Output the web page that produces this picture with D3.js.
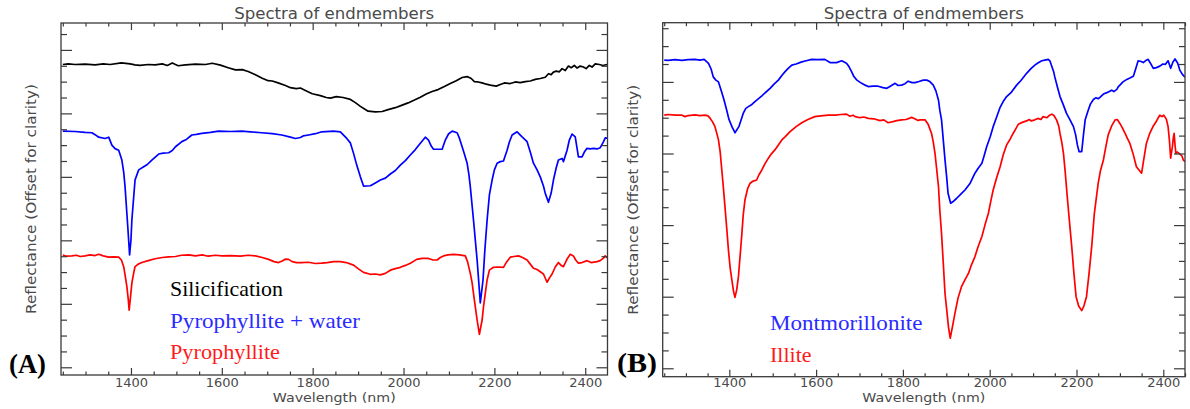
<!DOCTYPE html>
<html>
<head>
<meta charset="utf-8">
<script src="https://cdn.jsdelivr.net/npm/d3@7"></script>
<style>
  body { margin: 0; background: #fff; }
  svg { display: block; }
</style>
</head>
<body>
<svg id="chart" width="1190" height="409"></svg>
<script>
// ---- Spectra, [wavelength nm, reflectance offset for clarity] ----
const silicification = [
  [1250,0.954],[1262,0.956],[1277,0.954],[1299,0.955],[1321,0.953],[1339,0.956],[1354,0.954],
  [1379,0.959],[1398,0.956],[1409,0.953],[1420,0.951],[1438,0.954],[1453,0.953],[1469,0.956],
  [1480,0.951],[1491,0.959],[1498,0.954],[1504,0.950],[1520,0.953],[1542,0.955],[1564,0.954],
  [1579,0.958],[1597,0.952],[1614,0.944],[1630,0.937],[1645,0.938],[1658,0.932],[1674,0.922],
  [1689,0.911],[1702,0.903],[1711,0.902],[1724,0.896],[1740,0.888],[1751,0.881],[1764,0.878],
  [1773,0.880],[1784,0.872],[1799,0.862],[1817,0.856],[1830,0.850],[1839,0.848],[1852,0.853],
  [1867,0.850],[1883,0.844],[1894,0.834],[1905,0.822],[1916,0.812],[1922,0.807],[1938,0.805],
  [1953,0.806],[1966,0.812],[1982,0.818],[1997,0.826],[2010,0.833],[2024,0.842],[2037,0.851],
  [2050,0.861],[2063,0.869],[2076,0.875],[2090,0.885],[2103,0.894],[2116,0.903],[2129,0.913],
  [2140,0.916],[2149,0.910],[2156,0.900],[2164,0.899],[2173,0.896],[2182,0.892],[2191,0.889],
  [2204,0.886],[2213,0.891],[2222,0.896],[2235,0.894],[2246,0.899],[2257,0.897],[2268,0.900],
  [2279,0.902],[2290,0.907],[2301,0.910],[2312,0.914],[2319,0.925],[2325,0.922],[2330,0.930],
  [2336,0.933],[2343,0.931],[2349,0.941],[2356,0.935],[2363,0.949],[2369,0.944],[2376,0.951],
  [2382,0.943],[2389,0.949],[2396,0.946],[2402,0.941],[2409,0.951],[2415,0.946],[2422,0.956],
  [2431,0.954],[2439,0.951],[2448,0.954]
];

const pyrophylliteWater = [
  [1250,0.744],[1277,0.743],[1299,0.740],[1314,0.739],[1321,0.733],[1329,0.725],[1343,0.721],
  [1351,0.725],[1358,0.700],[1365,0.689],[1373,0.684],[1380,0.653],[1384,0.615],[1387,0.569],
  [1393,0.443],[1397,0.354],[1400,0.401],[1402,0.464],[1409,0.590],[1417,0.622],[1428,0.632],
  [1436,0.639],[1446,0.653],[1461,0.672],[1471,0.675],[1483,0.676],[1491,0.683],[1498,0.695],
  [1512,0.711],[1522,0.718],[1534,0.732],[1544,0.734],[1556,0.737],[1575,0.740],[1593,0.744],
  [1619,0.743],[1644,0.744],[1663,0.742],[1688,0.739],[1711,0.736],[1732,0.732],[1751,0.725],
  [1762,0.721],[1773,0.724],[1779,0.729],[1791,0.732],[1806,0.736],[1820,0.742],[1846,0.744],
  [1861,0.742],[1875,0.721],[1883,0.707],[1890,0.674],[1897,0.637],[1905,0.600],[1912,0.571],
  [1927,0.572],[1938,0.581],[1949,0.590],[1960,0.596],[1971,0.609],[1982,0.620],[1993,0.637],
  [2004,0.651],[2015,0.669],[2026,0.686],[2037,0.706],[2048,0.725],[2055,0.716],[2061,0.697],
  [2066,0.687],[2085,0.687],[2092,0.716],[2099,0.735],[2107,0.744],[2118,0.739],[2123,0.722],
  [2129,0.695],[2134,0.672],[2140,0.643],[2144,0.606],[2147,0.569],[2154,0.464],[2162,0.338],
  [2169,0.203],[2175,0.275],[2179,0.369],[2184,0.464],[2189,0.543],[2195,0.590],[2200,0.622],
  [2206,0.643],[2213,0.648],[2220,0.650],[2228,0.684],[2233,0.710],[2239,0.732],[2250,0.742],
  [2261,0.726],[2272,0.711],[2279,0.678],[2286,0.643],[2294,0.622],[2301,0.600],[2308,0.571],
  [2312,0.548],[2319,0.520],[2325,0.549],[2330,0.590],[2336,0.628],[2341,0.653],[2349,0.658],
  [2352,0.648],[2360,0.684],[2365,0.716],[2371,0.735],[2378,0.726],[2385,0.663],[2393,0.663],
  [2398,0.678],[2404,0.690],[2411,0.688],[2418,0.690],[2426,0.688],[2433,0.692],[2440,0.710],
  [2444,0.723],[2450,0.721]
];

const pyrophyllite = [
  [1250,0.354],[1258,0.350],[1270,0.351],[1280,0.353],[1288,0.349],[1299,0.351],[1310,0.354],
  [1321,0.352],[1329,0.356],[1339,0.351],[1351,0.347],[1361,0.348],[1373,0.347],[1379,0.338],
  [1384,0.317],[1387,0.291],[1391,0.254],[1394,0.215],[1396,0.180],[1399,0.221],[1402,0.265],
  [1406,0.297],[1409,0.317],[1416,0.325],[1424,0.330],[1438,0.336],[1453,0.342],[1469,0.346],
  [1483,0.348],[1498,0.349],[1511,0.353],[1527,0.354],[1542,0.351],[1557,0.354],[1570,0.350],
  [1586,0.353],[1600,0.351],[1619,0.352],[1641,0.350],[1658,0.353],[1674,0.351],[1689,0.346],
  [1703,0.340],[1715,0.333],[1725,0.330],[1733,0.335],[1740,0.341],[1747,0.340],[1755,0.333],
  [1764,0.330],[1776,0.330],[1790,0.331],[1806,0.327],[1820,0.328],[1832,0.330],[1846,0.333],
  [1861,0.333],[1874,0.330],[1890,0.322],[1900,0.311],[1912,0.299],[1927,0.293],[1938,0.294],
  [1949,0.291],[1960,0.296],[1971,0.306],[1982,0.311],[1993,0.315],[2004,0.321],[2015,0.328],
  [2029,0.340],[2041,0.343],[2055,0.343],[2065,0.338],[2074,0.338],[2081,0.346],[2088,0.351],
  [2098,0.354],[2110,0.356],[2123,0.354],[2136,0.351],[2141,0.332],[2147,0.296],[2151,0.266],
  [2154,0.233],[2158,0.190],[2162,0.149],[2167,0.104],[2173,0.149],[2176,0.190],[2180,0.233],
  [2184,0.275],[2189,0.306],[2198,0.315],[2208,0.316],[2220,0.315],[2227,0.332],[2235,0.347],
  [2243,0.349],[2253,0.351],[2262,0.346],[2272,0.338],[2279,0.325],[2286,0.312],[2294,0.308],
  [2301,0.301],[2308,0.294],[2316,0.268],[2321,0.281],[2327,0.294],[2334,0.316],[2341,0.330],
  [2347,0.321],[2352,0.317],[2360,0.341],[2367,0.356],[2374,0.351],[2379,0.338],[2385,0.328],
  [2393,0.330],[2404,0.336],[2413,0.330],[2426,0.333],[2433,0.336],[2440,0.344],[2444,0.351],
  [2450,0.343]
];

const montmorillonite = [
  [1250,0.861],[1259,0.860],[1275,0.862],[1291,0.860],[1305,0.862],[1321,0.863],[1332,0.861],
  [1342,0.863],[1352,0.852],[1358,0.836],[1363,0.814],[1369,0.805],[1375,0.800],[1382,0.773],
  [1388,0.749],[1394,0.721],[1399,0.696],[1406,0.675],[1413,0.658],[1422,0.675],[1432,0.712],
  [1438,0.726],[1444,0.731],[1452,0.737],[1459,0.745],[1466,0.752],[1475,0.761],[1482,0.769],
  [1494,0.782],[1503,0.794],[1513,0.805],[1521,0.818],[1528,0.828],[1535,0.837],[1544,0.847],
  [1554,0.850],[1567,0.856],[1577,0.859],[1590,0.863],[1604,0.862],[1620,0.863],[1632,0.854],
  [1647,0.854],[1659,0.859],[1670,0.852],[1676,0.842],[1682,0.828],[1687,0.815],[1694,0.805],
  [1705,0.796],[1713,0.791],[1720,0.787],[1731,0.788],[1743,0.788],[1754,0.784],[1763,0.782],
  [1770,0.787],[1782,0.796],[1789,0.790],[1797,0.791],[1805,0.795],[1812,0.802],[1821,0.798],
  [1828,0.798],[1837,0.801],[1847,0.805],[1855,0.805],[1862,0.801],[1870,0.791],[1876,0.775],
  [1882,0.749],[1885,0.721],[1889,0.694],[1893,0.638],[1897,0.582],[1901,0.532],[1904,0.489],
  [1910,0.461],[1915,0.465],[1924,0.475],[1934,0.487],[1943,0.498],[1955,0.517],[1966,0.545],
  [1973,0.558],[1982,0.573],[1987,0.593],[1993,0.619],[2001,0.646],[2008,0.675],[2016,0.702],
  [2024,0.729],[2031,0.745],[2039,0.759],[2049,0.770],[2062,0.791],[2072,0.804],[2085,0.824],
  [2095,0.837],[2104,0.847],[2111,0.853],[2120,0.859],[2127,0.861],[2135,0.863],[2139,0.858],
  [2142,0.847],[2147,0.830],[2150,0.814],[2156,0.786],[2162,0.759],[2169,0.738],[2177,0.712],
  [2185,0.694],[2193,0.675],[2198,0.652],[2202,0.624],[2206,0.605],[2212,0.605],[2216,0.652],
  [2220,0.694],[2227,0.721],[2232,0.738],[2239,0.751],[2245,0.756],[2250,0.753],[2254,0.757],
  [2262,0.766],[2270,0.770],[2281,0.777],[2286,0.773],[2293,0.779],[2296,0.786],[2300,0.791],
  [2307,0.800],[2316,0.807],[2323,0.811],[2331,0.816],[2337,0.839],[2342,0.859],[2349,0.857],
  [2354,0.854],[2360,0.860],[2365,0.863],[2370,0.853],[2377,0.838],[2384,0.840],[2392,0.844],
  [2399,0.850],[2405,0.849],[2411,0.859],[2417,0.838],[2422,0.855],[2427,0.864],[2433,0.853],
  [2438,0.833],[2444,0.821],[2450,0.813]
];

const illite = [
  [1250,0.707],[1259,0.709],[1275,0.707],[1291,0.707],[1298,0.703],[1305,0.706],[1321,0.708],
  [1332,0.706],[1344,0.707],[1351,0.705],[1356,0.698],[1361,0.689],[1367,0.675],[1371,0.657],
  [1375,0.638],[1379,0.604],[1382,0.563],[1386,0.509],[1390,0.451],[1394,0.392],[1398,0.330],
  [1402,0.280],[1407,0.237],[1410,0.213],[1413,0.198],[1417,0.219],[1421,0.256],[1425,0.316],
  [1429,0.377],[1432,0.428],[1436,0.470],[1442,0.501],[1448,0.517],[1455,0.523],[1463,0.526],
  [1468,0.540],[1475,0.554],[1482,0.571],[1490,0.587],[1497,0.599],[1505,0.610],[1513,0.624],
  [1521,0.638],[1529,0.647],[1540,0.661],[1554,0.675],[1567,0.686],[1581,0.695],[1597,0.703],
  [1611,0.705],[1628,0.707],[1644,0.707],[1657,0.709],[1670,0.710],[1678,0.704],[1685,0.707],
  [1690,0.703],[1701,0.700],[1710,0.702],[1720,0.698],[1733,0.697],[1747,0.692],[1756,0.694],
  [1766,0.686],[1777,0.689],[1786,0.692],[1797,0.694],[1807,0.695],[1814,0.698],[1820,0.701],
  [1826,0.698],[1835,0.692],[1839,0.694],[1851,0.694],[1858,0.682],[1866,0.656],[1870,0.632],
  [1874,0.600],[1878,0.554],[1882,0.507],[1885,0.442],[1889,0.377],[1893,0.294],[1897,0.209],
  [1901,0.163],[1905,0.115],[1909,0.084],[1914,0.115],[1920,0.154],[1927,0.196],[1935,0.228],
  [1943,0.247],[1951,0.265],[1958,0.289],[1966,0.312],[1973,0.339],[1982,0.368],[1989,0.400],
  [1997,0.433],[2003,0.470],[2008,0.498],[2016,0.532],[2024,0.563],[2031,0.596],[2039,0.624],
  [2047,0.640],[2054,0.656],[2061,0.671],[2066,0.682],[2075,0.687],[2085,0.691],[2091,0.695],
  [2096,0.691],[2104,0.694],[2111,0.698],[2118,0.695],[2123,0.703],[2132,0.700],[2137,0.706],
  [2143,0.710],[2148,0.706],[2154,0.694],[2159,0.677],[2162,0.656],[2166,0.632],[2170,0.600],
  [2174,0.548],[2178,0.489],[2183,0.420],[2189,0.340],[2194,0.266],[2199,0.200],[2205,0.174],
  [2212,0.161],[2217,0.174],[2223,0.200],[2229,0.266],[2235,0.340],[2241,0.431],[2250,0.517],
  [2255,0.551],[2262,0.582],[2267,0.615],[2273,0.652],[2281,0.677],[2289,0.694],[2294,0.695],
  [2300,0.684],[2306,0.671],[2312,0.656],[2317,0.643],[2323,0.628],[2330,0.601],[2338,0.563],
  [2344,0.554],[2350,0.545],[2354,0.576],[2361,0.628],[2369,0.657],[2377,0.677],[2383,0.688],
  [2388,0.699],[2392,0.707],[2397,0.703],[2401,0.707],[2407,0.696],[2411,0.675],[2414,0.638],
  [2417,0.587],[2419,0.604],[2421,0.619],[2423,0.643],[2425,0.656],[2427,0.624],[2429,0.600],
  [2432,0.604],[2438,0.599],[2443,0.593],[2446,0.582],[2450,0.577]
];

// ---- Axis ticks ----
const wavelengthTicks = [1400, 1600, 1800, 2000, 2200, 2400];
const wavelengthMinorStep = 50;
const reflectanceStep = 0.05;

const titleText = "Spectra of endmembers";
const xLabelText = "Wavelength (nm)";
const yLabelText = "Reflectance (Offset for clarity)";

// ---- Legend entries per panel ----
const legendA = ["Silicification", "Pyrophyllite + water", "Pyrophyllite"];
const legendB = ["Montmorillonite", "Illite"];

// ---- Panel layout ----
const panels = [
  {
    tag: "(A)", tagX: 9, tagY: 373, tagW: 37,
    left: 61, right: 607.5, top: 23, bottom: 375,
    xDomain: [1246, 2449], yDomain: [-0.0243, 1.0848], yTickMax: 1.05,
    series: [silicification, pyrophylliteWater, pyrophyllite],
    colors: ["#000000", "#0000ff", "#ff0000"],
    legend: legendA, legendColors: ["#000000", "#2b2bff", "#ff1a1a"],
    legendX: 170, legendY: [296, 327.5, 359], legendW: [113, 190, 110],
    yLabelX: 36
  },
  {
    tag: "(B)", tagX: 617, tagY: 372, tagW: 40,
    left: 662.7, right: 1185, top: 22.7, bottom: 376.7,
    xDomain: [1246.5, 2450], yDomain: [-0.0235, 0.9654], yTickMax: 0.95,
    series: [montmorillonite, illite],
    colors: ["#0000ff", "#ff0000"],
    legend: legendB, legendColors: ["#2b2bff", "#ff1a1a"],
    legendX: 770, legendY: [329.5, 361.5], legendW: [152.5, 41.5],
    yLabelX: 637.5
  }
];

const axisColor = "#3a3a3a";
const textColor = "#4a4a4a";
const tickFont = 13;
const tickBaseline = 386.5;
const svg = d3.select("#chart");

panels.forEach((p, i) => {
  const g = svg.append("g");
  const x = d3.scaleLinear().domain(p.xDomain).range([p.left, p.right]);
  const y = d3.scaleLinear().domain(p.yDomain).range([p.bottom, p.top]);

  const minorX = d3.range(1250, 2451, wavelengthMinorStep)
    .filter(v => !wavelengthTicks.includes(v) && v >= p.xDomain[0] && v <= p.xDomain[1]);
  const yAll = d3.range(0, p.yTickMax + 1e-6, reflectanceStep).map(v => +v.toFixed(2));
  const yMajor = yAll.filter((v, k) => k % 4 === 0);
  const yMinor = yAll.filter((v, k) => k % 4 !== 0);

  const clipId = "clip" + i;
  g.append("clipPath").attr("id", clipId)
    .append("rect").attr("x", p.left).attr("y", p.top)
    .attr("width", p.right - p.left).attr("height", p.bottom - p.top);

  // spectra
  const line = d3.line().x(d => x(d[0])).y(d => y(d[1]));
  const lines = g.append("g").attr("clip-path", `url(#${clipId})`);
  p.series.forEach((s, k) => {
    lines.append("path").datum(s).attr("d", line)
      .attr("fill", "none").attr("stroke", p.colors[k])
      .attr("stroke-width", 1.7).attr("stroke-linejoin", "round");
  });

  // axes with inward ticks on all four sides
  const pad = tickBaseline - p.bottom - 0.71 * tickFont;
  const axes = [
    g.append("g").attr("transform", `translate(0,${p.bottom})`)
      .call(d3.axisBottom(x).tickValues(wavelengthTicks).tickSizeInner(-7).tickSizeOuter(0)
        .tickPadding(pad).tickFormat(d3.format("d"))),
    g.append("g").attr("transform", `translate(0,${p.bottom})`)
      .call(d3.axisBottom(x).tickValues(minorX).tickSizeInner(-3.5).tickSizeOuter(0).tickFormat("")),
    g.append("g").attr("transform", `translate(0,${p.top})`)
      .call(d3.axisTop(x).tickValues(wavelengthTicks).tickSizeInner(-7).tickSizeOuter(0).tickFormat("")),
    g.append("g").attr("transform", `translate(0,${p.top})`)
      .call(d3.axisTop(x).tickValues(minorX).tickSizeInner(-3.5).tickSizeOuter(0).tickFormat("")),
    g.append("g").attr("transform", `translate(${p.left},0)`)
      .call(d3.axisLeft(y).tickValues(yMajor).tickSizeInner(-11).tickSizeOuter(0).tickFormat("")),
    g.append("g").attr("transform", `translate(${p.left},0)`)
      .call(d3.axisLeft(y).tickValues(yMinor).tickSizeInner(-6).tickSizeOuter(0).tickFormat("")),
    g.append("g").attr("transform", `translate(${p.right},0)`)
      .call(d3.axisRight(y).tickValues(yMajor).tickSizeInner(-11).tickSizeOuter(0).tickFormat("")),
    g.append("g").attr("transform", `translate(${p.right},0)`)
      .call(d3.axisRight(y).tickValues(yMinor).tickSizeInner(-6).tickSizeOuter(0).tickFormat(""))
  ];
  axes.forEach(a => {
    a.select(".domain").remove();
    a.selectAll(".tick line").attr("stroke", axisColor).attr("stroke-width", 1.2);
    a.selectAll(".tick text").attr("fill", textColor)
      .attr("font-family", "DejaVu Sans").attr("font-size", tickFont);
  });

  g.append("rect").attr("x", p.left).attr("y", p.top)
    .attr("width", p.right - p.left).attr("height", p.bottom - p.top)
    .attr("fill", "none").attr("stroke", axisColor).attr("stroke-width", 1.3);

  const cx = (p.left + p.right) / 2;
  const cy = (p.top + p.bottom) / 2;

  g.append("text").attr("x", cx).attr("y", 19).attr("text-anchor", "middle")
    .attr("font-family", "DejaVu Sans").attr("font-size", 16).attr("fill", textColor)
    .attr("textLength", 200).attr("lengthAdjust", "spacingAndGlyphs")
    .text(titleText);

  g.append("text").attr("x", cx).attr("y", 402).attr("text-anchor", "middle")
    .attr("font-family", "DejaVu Sans").attr("font-size", 12.5).attr("fill", textColor)
    .attr("textLength", 123).attr("lengthAdjust", "spacingAndGlyphs")
    .text(xLabelText);

  g.append("text").attr("transform", `translate(${p.yLabelX},${cy}) rotate(-90)`)
    .attr("text-anchor", "middle")
    .attr("font-family", "DejaVu Sans").attr("font-size", 14).attr("fill", textColor)
    .attr("textLength", 230).attr("lengthAdjust", "spacingAndGlyphs")
    .text(yLabelText);

  p.legend.forEach((name, k) => {
    g.append("text").attr("x", p.legendX).attr("y", p.legendY[k])
      .attr("font-family", "Liberation Serif").attr("font-size", 22)
      .attr("fill", p.legendColors[k])
      .attr("textLength", p.legendW[k]).attr("lengthAdjust", "spacingAndGlyphs")
      .text(name);
  });

  g.append("text").attr("x", p.tagX).attr("y", p.tagY)
    .attr("font-family", "Liberation Serif").attr("font-weight", "bold").attr("font-size", 27)
    .attr("fill", "#000").attr("textLength", p.tagW).attr("lengthAdjust", "spacingAndGlyphs")
    .text(p.tag);
});
</script>
</body>
</html>
